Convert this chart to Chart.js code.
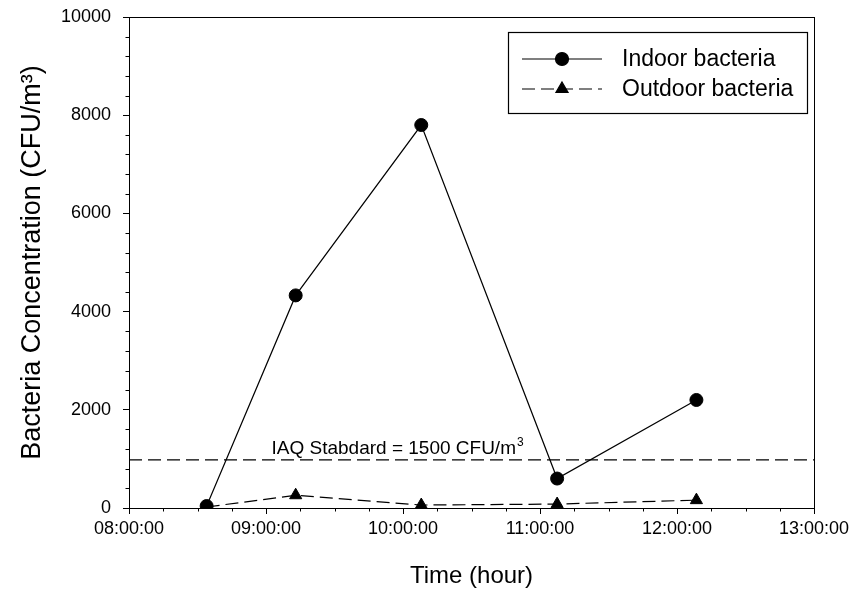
<!DOCTYPE html>
<html>
<head>
<meta charset="utf-8">
<title>Bacteria concentration</title>
<script src="https://cdn.jsdelivr.net/npm/chart.js@4"></script>
<style>
  html, body { margin: 0; padding: 0; background: #fff; }
  #chart { display: block; }
</style>
</head>
<body>
<canvas id="chart" width="860" height="599"></canvas>
<script>
  // Sampling times (both series share them).
  const sampleTimes = ["08:34:00", "09:13:00", "10:08:00", "11:07:30", "12:08:30"];
  const indoorValues = [40, 4330, 7800, 600, 2200];
  const outdoorValues = [20, 260, 60, 80, 160];
  // the dashed standard line sits a bit under 1000 in the picture,
  // even though its label says 1500
  const standardValue = 980;
  const standardLabel = "IAQ Stabdard = 1500 CFU/m";
  const xRange = [8, 13];
  const yRange = [0, 10000];

  const FONT = "'Liberation Sans', Arial, sans-serif";

  function toHours(t) {
    const p = t.split(":").map(Number);
    return p[0] + p[1] / 60 + p[2] / 3600;
  }

  function pad(n) {
    return (n < 10 ? "0" : "") + n;
  }

  const indoorPoints = sampleTimes.map(function (t, i) {
    return { x: toHours(t), y: indoorValues[i] };
  });
  const outdoorPoints = sampleTimes.map(function (t, i) {
    return { x: toHours(t), y: outdoorValues[i] };
  });
  const standardPoints = [
    { x: xRange[0], y: standardValue },
    { x: xRange[1], y: standardValue },
  ];

  // Frame, minor ticks, the standard's label and the legend box.
  const extras = {
    id: "extras",
    afterDraw: function (chart) {
      const ctx = chart.ctx;
      const area = chart.chartArea;
      const xs = chart.scales.x;
      const ys = chart.scales.y;
      ctx.save();
      ctx.strokeStyle = "#000";
      ctx.lineWidth = 1;
      ctx.strokeRect(area.left + 0.5, area.top + 0.5, area.right - area.left, area.bottom - area.top);

      ctx.beginPath();
      for (let v = xRange[0]; v <= xRange[1]; v += 0.25) {
        if (Math.abs(v - Math.round(v)) < 1e-6) continue;
        const px = Math.round(xs.getPixelForValue(v)) + 0.5;
        ctx.moveTo(px, area.bottom);
        ctx.lineTo(px, area.bottom + 3.5);
      }
      for (let v = yRange[0]; v <= yRange[1]; v += 400) {
        if (v % 2000 === 0) continue;
        const py = Math.round(ys.getPixelForValue(v)) + 0.5;
        ctx.moveTo(area.left, py);
        ctx.lineTo(area.left - 3.5, py);
      }
      ctx.stroke();

      // label of the standard line
      const lx = xs.getPixelForValue(9.04);
      const ly = ys.getPixelForValue(standardValue) - 6;
      ctx.fillStyle = "#000";
      ctx.font = "19px " + FONT;
      ctx.textAlign = "left";
      ctx.textBaseline = "alphabetic";
      ctx.fillText(standardLabel, lx, ly);
      const w = ctx.measureText(standardLabel).width;
      ctx.font = "12px " + FONT;
      ctx.fillText("3", lx + w + 1, ly - 8);

      // legend
      ctx.lineWidth = 1.2;
      ctx.strokeRect(508.5, 32.5, 299, 81);
      const rows = [
        { y: 59, text: "Indoor bacteria", ds: chart.data.datasets[0] },
        { y: 89, text: "Outdoor bacteria", ds: chart.data.datasets[1] },
      ];
      rows.forEach(function (r) {
        ctx.save();
        ctx.lineWidth = r.ds.borderWidth;
        ctx.setLineDash(r.ds.borderDash || []);
        ctx.beginPath();
        ctx.moveTo(522, r.y);
        ctx.lineTo(602, r.y);
        ctx.stroke();
        ctx.restore();
        Chart.helpers.drawPoint(ctx, {
          pointStyle: r.ds.pointStyle,
          radius: r.ds.pointRadius,
          borderWidth: 1,
          rotation: 0,
        }, 562, r.y);
        ctx.fillStyle = "#000";
        ctx.font = "23px " + FONT;
        ctx.textBaseline = "middle";
        ctx.fillText(r.text, 622, r.y + 1);
      });
      ctx.restore();
    },
  };

  Chart.defaults.font.family = FONT;
  Chart.defaults.color = "#000";

  new Chart(document.getElementById("chart"), {
    type: "line",
    data: {
      datasets: [
        {
          label: "Indoor bacteria",
          data: indoorPoints,
          borderColor: "#000",
          backgroundColor: "#000",
          borderWidth: 1.2,
          pointStyle: "circle",
          pointRadius: 6.5,
          pointBorderWidth: 1,
          tension: 0,
        },
        {
          label: "Outdoor bacteria",
          data: outdoorPoints,
          borderColor: "#000",
          backgroundColor: "#000",
          borderWidth: 1.2,
          borderDash: [13, 6],
          pointStyle: "triangle",
          pointRadius: 7,
          pointBorderWidth: 1,
          tension: 0,
        },
        {
          label: "IAQ standard",
          data: standardPoints,
          borderColor: "#000",
          borderWidth: 1.2,
          borderDash: [13, 6],
          pointRadius: 0,
          tension: 0,
        },
      ],
    },
    options: {
      responsive: false,
      animation: false,
      events: [],
      layout: { padding: { top: 17, right: 46, left: 0, bottom: 0 } },
      plugins: {
        legend: { display: false },
        tooltip: { enabled: false },
      },
      scales: {
        x: {
          type: "linear",
          min: xRange[0],
          max: xRange[1],
          grid: { drawOnChartArea: false, drawTicks: true, tickLength: 6, color: "#000" },
          border: { color: "#000", width: 1 },
          ticks: {
            stepSize: 1,
            padding: 4,
            maxRotation: 0,
            font: { size: 18 },
            callback: function (v) { return pad(v) + ":00:00"; },
          },
          title: { display: true, text: "Time (hour)", font: { size: 24 }, padding: { top: 0, bottom: 8 } },
          afterFit: function (scale) {
            scale.height = 91;
            scale.paddingLeft = 0;
            scale.paddingRight = 0;
          },
        },
        y: {
          min: yRange[0],
          max: yRange[1],
          grid: { drawOnChartArea: false, drawTicks: true, tickLength: 6, color: "#000" },
          border: { color: "#000", width: 1 },
          ticks: {
            stepSize: 2000,
            padding: 12,
            font: { size: 18 },
            callback: function (v) { return String(v); },
          },
          title: { display: true, text: "Bacteria Concentration (CFU/m³)", font: { size: 27 }, padding: { top: 16, bottom: 0 } },
          afterFit: function (scale) {
            scale.width = 129;
            scale.paddingTop = 0;
            scale.paddingBottom = 0;
          },
        },
      },
    },
    plugins: [extras],
  });
</script>
</body>
</html>
